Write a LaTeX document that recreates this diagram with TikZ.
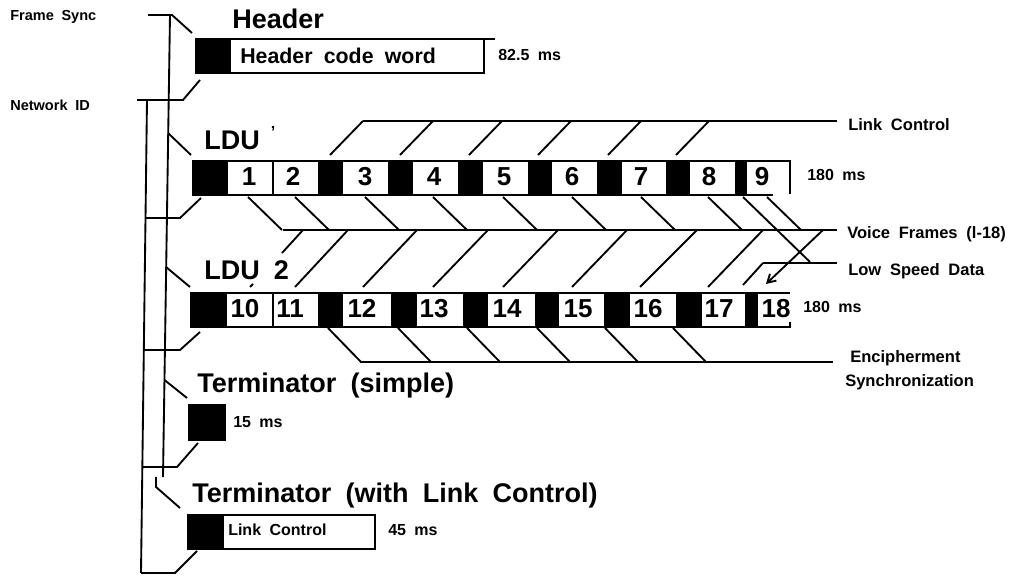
\documentclass[tikz,border=0pt]{standalone}
\usepackage{fontspec}
\setmainfont{Liberation Sans}[WordSpace=1.9]
\usetikzlibrary{arrows.meta}
\begin{document}
\begin{tikzpicture}[x=0.75pt,y=-0.75pt,
  ln/.style={line width=1.4pt},
  thick ln/.style={line width=2pt},
  head/.style={font=\bfseries\fontsize{20.25}{24}\selectfont,anchor=base west,inner sep=0pt},
  num/.style={font=\bfseries\fontsize{19.5}{22}\selectfont,anchor=base,inner sep=0pt},
  lbl/.style={font=\bfseries\fontsize{12.4}{15}\selectfont,anchor=base west,inner sep=0pt},
  side/.style={font=\bfseries\fontsize{10.9}{13}\selectfont,anchor=base west,inner sep=0pt},
  ms/.style={font=\bfseries\fontsize{12}{14}\selectfont,anchor=base west,inner sep=0pt},
  inbox/.style={font=\bfseries\fontsize{16}{18}\selectfont,anchor=base west,inner sep=0pt},
  tip/.style={-{Straight Barb[length=6pt,width=7pt]}},
]
\useasboundingbox (0,0) rectangle (1018,580);
\fill[white] (0,0) rectangle (1018,580);

% ---------- left labels ----------
\node[side] (fs) at (10,21) {Frame Sync};
\node[side] (nid) at (10,111) {Network ID};

% ---------- Header ----------
\node[head] (hdr) at (232,29) {Header};
\fill (195,38) rectangle (230,74);
\draw[ln] (230,39) rectangle (484,73);
\draw[ln] (484,39) -- (495,39);
\node[inbox] (hcw) at (240,64) {Header code word};
\node[ms] (t825) at (498,61) {82.5 ms};

% ---------- left brackets ----------
\draw[ln] (148,15) -- (172,15) -- (192,33);
\draw[ln] (170,15) -- (163,477);
\draw[ln] (147,100) -- (141,573);
\draw[ln] (137,100) -- (183,100) -- (200,80);
\draw[ln] (168,133) -- (191,155);
\draw[ln] (201,198) -- (180,218) -- (145.5,218);
\draw[ln] (166,267) -- (190,287);
\draw[ln] (200,332) -- (180,350) -- (144,350);
\draw[ln] (164.5,380) -- (187,398);
\draw[ln] (198,443) -- (177,467) -- (142,467);
\draw[ln] (156,477) -- (156,487) -- (180,508);
\draw[ln] (197,551) -- (175,573) -- (141,573);

% ---------- LDU 1 ----------
\node[head] (ldu1) at (204,150) {LDU};
\node[font=\bfseries\fontsize{12}{14}\selectfont,inner sep=0pt] (apo) at (273,132) {’};
\foreach \a/\b in {192/228,318/343,388/413,458/483,528/552,597/622,666/690,735/747}
  \fill (\a,160) rectangle (\b,196);
\draw[ln] (192,161) -- (790,161) -- (790,194);
\draw[ln] (192,195) -- (773,195);
\draw[ln] (273,161) -- (273,195);
\foreach \x/\t in {249/1,293/2,365/3,434/4,504/5,572/6,641/7,709/8,762/9}
  \node[num] (a\t) at (\x,186) {\t};
\node[ms] (ms1) at (807,181) {180 ms};

% Link Control line and diagonals
\draw[ln] (363,121) -- (837,121);
\foreach \x in {330,400,469,538,608,676}
  \draw[ln] (\x,155) -- ++(33,-34);
\node[lbl] (lc) at (848,131) {Link Control};

% Voice frames line and diagonals
\draw[ln] (283,230) -- (823,230);
\draw[thick ln] (283,230) -- (357,230);
\draw[thick ln] (823,230) -- (837,230);
\foreach \x in {248,295,365,433,503,572,641,708,767}
  \draw[ln] (\x,197) -- ++(34,33);
\draw[ln] (743,197) -- (810,262);
\node[lbl] (vf) at (847,239) {Voice Frames (l-18)};

% Low speed data line
\draw[ln] (763,263) -- (823,263);
\draw[thick ln] (823,263) -- (837,263);
\draw[ln] (763,263) -- (743,285);
\draw[ln,tip] (823,230) -- (766,284);
\node[lbl] (lsd) at (848,276) {Low Speed Data};

% ---------- LDU 2 ----------
\draw[ln] (303,230) -- (282,253) (253,284) -- (250,287);
\node[head] (ldu2) at (204,280) {LDU 2};
\foreach \a/\b in {348/295,417/363,488/433,558/503,627/572,697/640,763/708}
  \draw[ln] (\a,230) -- (\b,287);
\foreach \a/\b in {190/227,318/343,391/417,463/488,535/559,604/630,676/702,745/758}
  \fill (\a,292) rectangle (\b,328);
\draw[ln] (190,293) -- (790,293);
\draw[ln] (190,327) -- (790,327) -- (790,322);
\draw[ln] (273,293) -- (273,327);
\foreach \x/\t in {245/10,290/11,362/12,434/13,507/14,578/15,648/16,719/17,776/18}
  \node[num] (b\t) at (\x,318) {\t};
\node[ms] (ms2) at (803,313) {180 ms};

% Encipherment sync line
\draw[ln] (360,362) -- (833,362);
\foreach \x in {328,398,467,537,605,673}
  \draw[ln] (\x,328) -- ++(33,34);
\node[lbl] (enc) at (850,363) {Encipherment};
\node[lbl] (syn) at (845,387) {Synchronization};

% ---------- Terminators ----------
\node[head] (ts) at (197,393) {Terminator (simple)};
\fill (188,404) rectangle (226,441);
\node[ms] (ms3) at (233,428) {15 ms};

\node[head] (tl) at (192,503) {Terminator (with Link Control)};
\fill (187,514) rectangle (223,550);
\draw[ln] (223,515) rectangle (375,549);
\node[ms] (lcb) at (228,536) {Link Control};
\node[ms] (ms4) at (388,536) {45 ms};
\end{tikzpicture}
\end{document}
